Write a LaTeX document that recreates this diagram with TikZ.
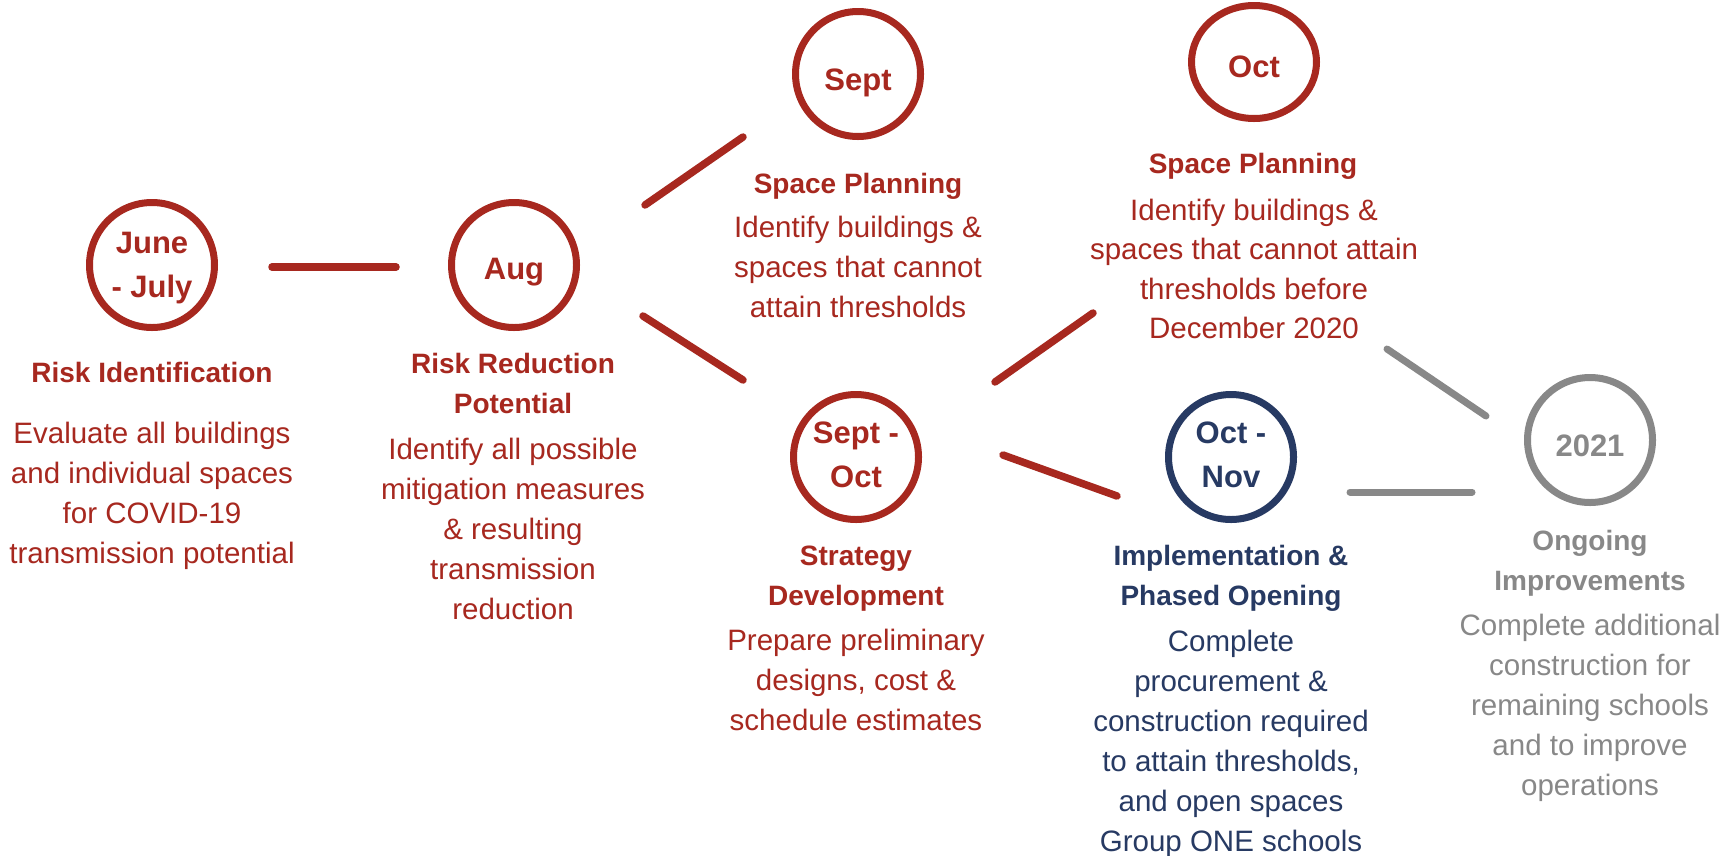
\documentclass[tikz,border=0pt]{standalone}
\usepackage{fontspec}
\setmainfont{Liberation Sans}
\usetikzlibrary{shapes.geometric}
\definecolor{cred}{RGB}{167,40,31}
\definecolor{cnavy}{RGB}{39,58,99}
\definecolor{cgray}{RGB}{136,136,136}
\newcommand\blk[1]{\vtop{\halign{\hfil##\hfil\cr#1\crcr}}}
\tikzset{
  ring/.style={circle, draw, line width=7pt, minimum size=125pt, inner sep=0pt},
  seg/.style={line width=7.5pt, line cap=round},
  lbl/.style={anchor=base, inner sep=0pt, font=\fontsize{31}{44}\selectfont\bfseries},
  ttl/.style={anchor=base, inner sep=0pt, font=\fontsize{28}{40}\selectfont\bfseries},
  bdy/.style={anchor=base, inner sep=0pt, font=\fontsize{29.5}{40}\selectfont},
}
\begin{document}
\begin{tikzpicture}[x=1pt,y=-1pt]
\path[fill=white,use as bounding box] (0,0) rectangle (1723,855);

% circles
\node[ring, draw=cred] (c1) at (152,265) {};
\node[ring, draw=cred] (c2) at (514,265) {};
\node[ring, draw=cred] (c3) at (858,74) {};
\node[ring, draw=cred] (c4) at (856,457) {};
\node[ellipse, draw=cred, line width=7pt, minimum width=125pt, minimum height=113pt, inner sep=0pt] (c5) at (1254,62) {};
\node[ring, draw=cnavy] (c6) at (1231,457) {};
\node[ring, draw=cgray] (c7) at (1590,440) {};

% connector end points
\coordinate (a1) at (272,267); \coordinate (b1) at (396,267);
\coordinate (a2) at (645,205); \coordinate (b2) at (743,137);
\coordinate (a3) at (643,316); \coordinate (b3) at (743,380);
\coordinate (a4) at (995,382); \coordinate (b4) at (1093,313);
\coordinate (a5) at (1003,455); \coordinate (b5) at (1117,496);
\coordinate (a6) at (1387,349); \coordinate (b6) at (1486,416);
\coordinate (a7) at (1350,492); \coordinate (b7) at (1472,492);

\draw[seg, cred] (a1) -- (b1);
\draw[seg, cred] (a2) -- (b2);
\draw[seg, cred] (a3) -- (b3);
\draw[seg, cred] (a4) -- (b4);
\draw[seg, cred] (a5) -- (b5);
\draw[seg, cgray, line width=7pt] (a6) -- (b6);
\draw[seg, cgray, line width=7pt] (a7) -- (b7);

% June - July
\node[lbl, text=cred] (l1) at (152,253) {\blk{June\cr - July}};
\node[ttl, text=cred] (t1) at (152,382) {\blk{Risk Identification}};
\node[bdy, text=cred] (d1) at (152,443) {\blk{Evaluate all buildings\cr and individual spaces\cr for COVID-19\cr transmission potential}};

% Aug
\node[lbl, text=cred] (l2) at (514,279) {\blk{Aug}};
\node[ttl, text=cred] (t2) at (513,373) {\blk{Risk Reduction\cr Potential}};
\node[bdy, text=cred] (d2) at (513,459) {\blk{Identify all possible\cr mitigation measures\cr \& resulting\cr transmission\cr reduction}};

% Sept
\node[lbl, text=cred] (l3) at (858,90) {\blk{Sept}};
\node[ttl, text=cred] (t3) at (858,193) {\blk{Space Planning}};
\node[bdy, text=cred] (d3) at (858,237) {\blk{Identify buildings \&\cr spaces that cannot\cr attain thresholds}};

% Oct
\node[lbl, text=cred] (l5) at (1254,77) {\blk{Oct}};
\node[ttl, text=cred] (t5) at (1253,173) {\blk{Space Planning}};
\node[bdy, text=cred, font=\fontsize{29.5}{39.5}\selectfont] (d5) at (1254,220) {\blk{Identify buildings \&\cr spaces that cannot attain\cr thresholds before\cr December 2020}};

% Sept - Oct
\node[lbl, text=cred] (l4) at (856,443) {\blk{Sept -\cr Oct}};
\node[ttl, text=cred] (t4) at (856,565) {\blk{Strategy\cr Development}};
\node[bdy, text=cred] (d4) at (856,650) {\blk{Prepare preliminary\cr designs, cost \&\cr schedule estimates}};

% Oct - Nov
\node[lbl, text=cnavy] (l6) at (1231,443) {\blk{Oct -\cr Nov}};
\node[ttl, text=cnavy] (t6) at (1231,565) {\blk{Implementation \&\cr Phased Opening}};
\node[bdy, text=cnavy] (d6) at (1231,651) {\blk{Complete\cr procurement \&\cr construction required\cr to attain thresholds,\cr and open spaces\cr Group ONE schools}};

% 2021
\node[lbl, text=cgray] (l7) at (1590,456) {\blk{2021}};
\node[ttl, text=cgray] (t7) at (1590,550) {\blk{Ongoing\cr Improvements}};
\node[bdy, text=cgray] (d7) at (1590,635) {\blk{Complete additional\cr construction for\cr remaining schools\cr and to improve\cr operations}};
\end{tikzpicture}
\end{document}
